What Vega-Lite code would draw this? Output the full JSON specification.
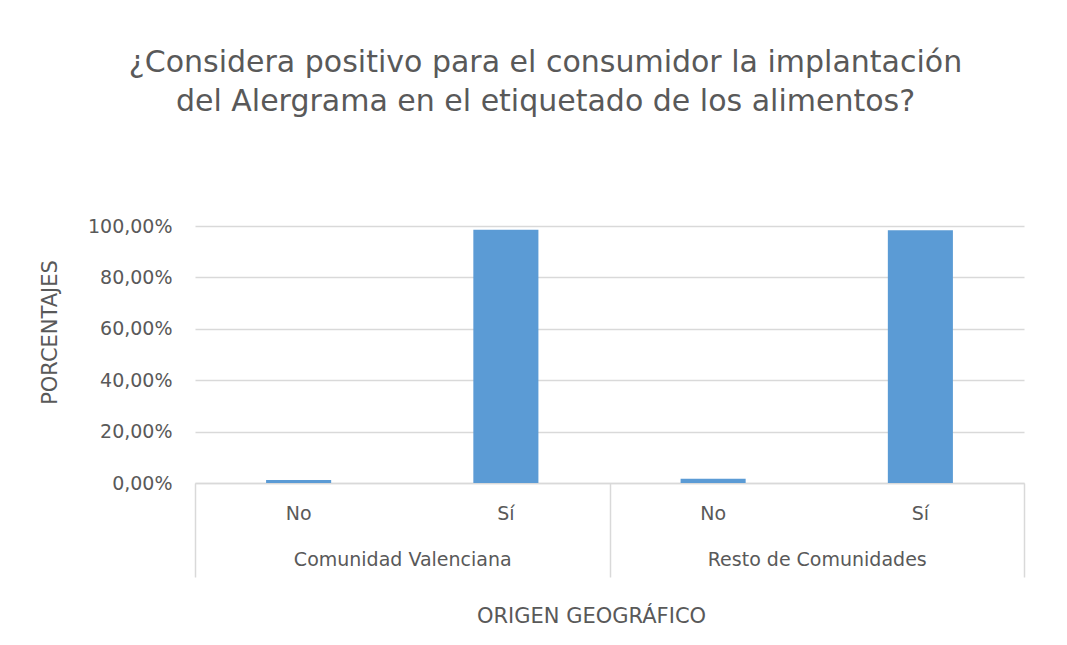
{
  "$schema": "https://vega.github.io/schema/vega-lite/v6.json",
  "autosize": {"type": "none"},
  "padding": {"left": 195, "top": 226, "right": 43, "bottom": 162},
  "width": 829,
  "height": 257,
  "background": "white",
  "title": {
    "text": ["¿Considera  positivo para el consumidor la implantación", "del Alergrama en el etiquetado de los alimentos?"],
    "anchor": "middle",
    "dx": -64,
    "offset": 76,
    "baseline": "alphabetic",
    "font": "DejaVu Sans",
    "fontSize": 30,
    "fontWeight": "normal",
    "color": "#595959",
    "lineHeight": 39
  },
  "data": {
    "values": [
      {"region": "Comunidad Valenciana", "respuesta": "No", "grupo": "Comunidad Valenciana|No", "pct": 0.012},
      {"region": "Comunidad Valenciana", "respuesta": "Sí", "grupo": "Comunidad Valenciana|Sí", "pct": 0.985},
      {"region": "Resto de Comunidades", "respuesta": "No", "grupo": "Resto de Comunidades|No", "pct": 0.017},
      {"region": "Resto de Comunidades", "respuesta": "Sí", "grupo": "Resto de Comunidades|Sí", "pct": 0.983}
    ]
  },
  "layer": [
    {
      "mark": {"type": "bar", "color": "#5b9bd5"},
      "encoding": {
        "x": {
          "field": "grupo",
          "type": "nominal",
          "sort": null,
          "scale": {"paddingInner": 0.686, "paddingOuter": 0.343},
          "axis": {
            "orient": "bottom",
            "title": null,
            "labelExpr": "split(datum.label, '|')[1]",
            "labelAngle": 0,
            "ticks": false,
            "tickSize": 0,
            "labelPadding": 21,
            "labelFont": "DejaVu Sans",
            "labelFontSize": 19,
            "labelColor": "#595959",
            "domainColor": "#d9d9d9",
            "domainWidth": 1.5
          }
        },
        "y": {
          "field": "pct",
          "type": "quantitative",
          "scale": {"domain": [0, 1]},
          "axis": {
            "values": [0, 0.2, 0.4, 0.6, 0.8, 1],
            "format": ".2%",
            "title": "PORCENTAJES",
            "titleFont": "DejaVu Sans",
            "titleFontSize": 21,
            "titleFontWeight": "normal",
            "titleColor": "#595959",
            "titleAngle": -90,
            "titleX": -145,
            "titleY": 106,
            "titleAlign": "center",
            "titleBaseline": "middle",
            "labelFont": "DejaVu Sans",
            "labelFontSize": 19,
            "labelColor": "#595959",
            "labelPadding": 23,
            "ticks": false,
            "domain": false,
            "grid": true,
            "gridColor": "#d9d9d9",
            "gridWidth": 1.5
          }
        }
      }
    },
    {
      "mark": {"type": "bar", "opacity": 0},
      "encoding": {
        "x": {
          "field": "region",
          "type": "nominal",
          "sort": null,
          "scale": {"paddingInner": 0, "paddingOuter": 0},
          "axis": {
            "orient": "bottom",
            "title": "ORIGEN GEOGRÁFICO",
            "titleFont": "DejaVu Sans",
            "titleFontSize": 21,
            "titleFontWeight": "normal",
            "titleColor": "#595959",
            "titlePadding": 28,
            "titleX": 396,
            "titleAnchor": "middle",
            "labelAngle": 0,
            "labelLimit": 0,
            "tickBand": "extent",
            "tickSize": 94,
            "tickColor": "#d9d9d9",
            "tickWidth": 1.5,
            "domain": false,
            "labelPadding": -27,
            "labelFont": "DejaVu Sans",
            "labelFontSize": 19,
            "labelColor": "#595959"
          }
        },
        "y": {"field": "pct", "type": "quantitative"}
      }
    }
  ],
  "resolve": {"scale": {"x": "independent"}, "axis": {"x": "independent"}},
  "config": {
    "locale": {
      "number": {"decimal": ",", "thousands": ".", "grouping": [3], "currency": ["", " €"]}
    },
    "view": {"stroke": null}
  }
}
